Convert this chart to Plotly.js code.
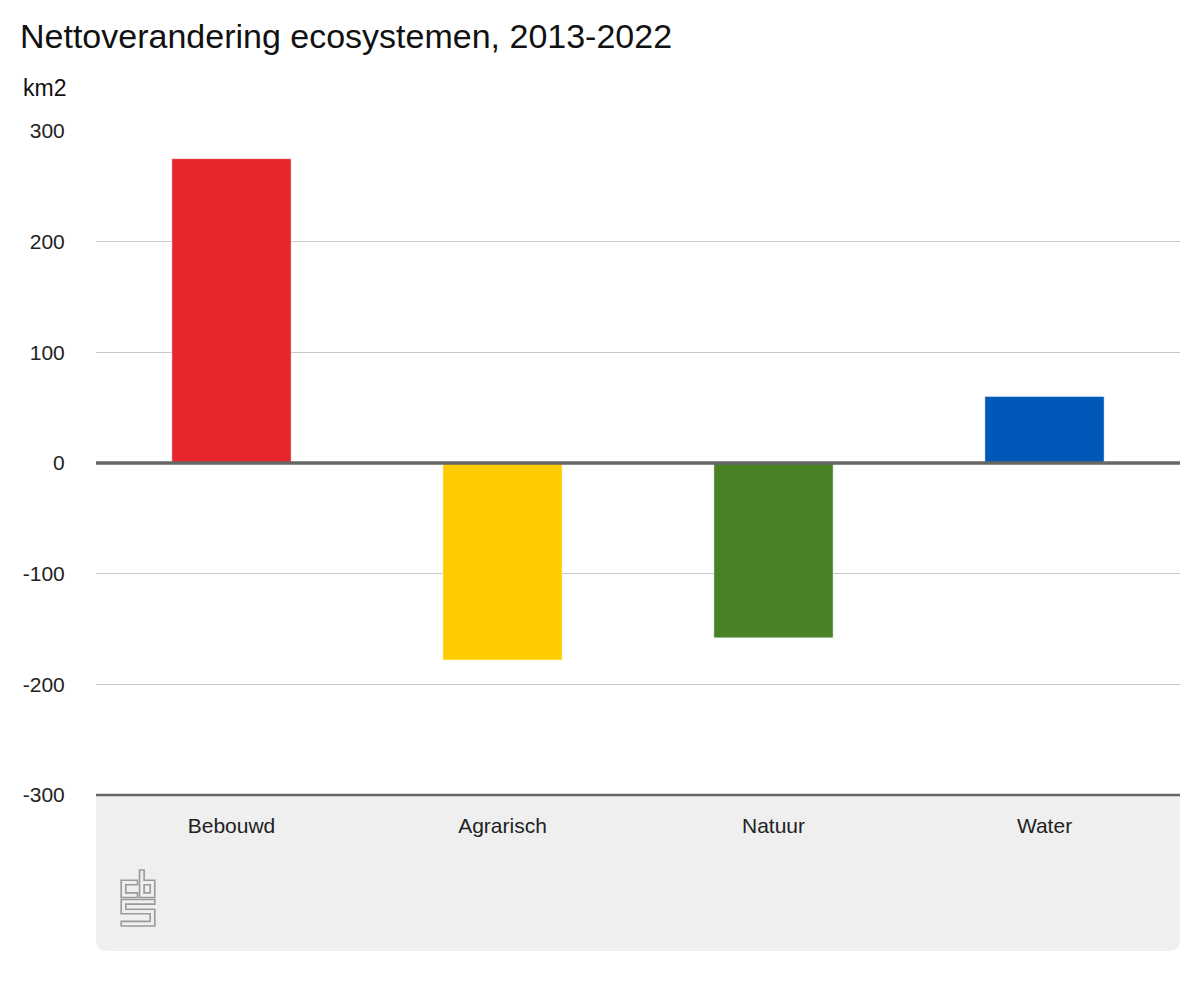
<!DOCTYPE html>
<html><head><meta charset="utf-8">
<script src="https://cdn.plot.ly/plotly-3.0.1.min.js"></script>
<style>body{margin:0;background:#fff}#c{width:1200px;height:1000px}</style>
</head><body><div id="c"></div>
<script>
const categories = ["Bebouwd", "Agrarisch", "Natuur", "Water"];
const values = [275, -178, -158, 60];
const colors = ["#e6262a", "#ffcc00", "#498224", "#0058b8"];
const yTicks = [-300, -200, -100, 0, 100, 200, 300];

const L = 96, R = 20, T = 131, B = 205, W = 1200, H = 1000;
const pw = W - L - R, ph = H - T - B;
const px = v => (v - L) / pw;
const py = v => (H - B - v) / ph;

const rx = 12 / pw, ry = 12 / ph;
const x0 = 0, x1 = 1, y0 = py(796), y1 = py(951);
const panel = `M${x0},${y0} L${x1},${y0} L${x1},${y1 + ry} Q${x1},${y1} ${x1 - rx},${y1} L${x0 + rx},${y1} Q${x0},${y1} ${x0},${y1 + ry} Z`;

const logo = 'data:image/svg+xml;utf8,' + encodeURIComponent(
`<svg xmlns="http://www.w3.org/2000/svg" width="36" height="58" viewBox="-1 -1 35 57">
<g fill="none" stroke="#9a9a9a" stroke-width="1.6">
<path d="M16,10 H0 V27 H16 V22.5 H4.5 V14.5 H16 Z"/>
<path d="M18,0 H22.5 V10 H33 V27 H18 Z"/>
<path d="M22.5,14.5 H28.5 V22.5 H22.5 Z"/>
<path d="M0,29 H33 V33.5 H4.5 V38.5 H33 V55 H0 V50.5 H28.5 V43 H0 Z"/>
</g></svg>`);

const data = [{
  type: 'bar', x: categories, y: values,
  marker: {color: colors, line: {color: 'rgba(255,255,255,0.45)', width: 1}},
  width: 0.44, hoverinfo: 'x+y'
}];

const layout = {
  width: W, height: H,
  margin: {l: L, r: R, t: T, b: B},
  paper_bgcolor: '#ffffff', plot_bgcolor: '#ffffff',
  font: {family: 'Liberation Sans, Arial, sans-serif', color: '#222', size: 21},
  showlegend: false,
  title: {text: 'Nettoverandering ecosystemen, 2013-2022', x: 20 / W, xanchor: 'left', y: 1 - 36 / H, yanchor: 'middle',
          font: {size: 34, color: '#111', family: 'Liberation Sans, Arial, sans-serif'}},
  xaxis: {type: 'category', showgrid: false, zeroline: false, showline: false,
          ticks: 'outside', ticklen: 12, tickcolor: 'rgba(0,0,0,0)', tickfont: {size: 21, color: '#222'}},
  yaxis: {range: [-300, 300], tickvals: yTicks, ticktext: yTicks.map(String),
          showgrid: true, gridcolor: '#c8c8c8', gridwidth: 1, zeroline: false, showline: false,
          ticks: 'outside', ticklen: 26, tickcolor: 'rgba(0,0,0,0)', tickfont: {size: 21, color: '#222'}},
  shapes: [
    {type: 'path', xref: 'paper', yref: 'paper', path: panel, fillcolor: '#efefef', line: {width: 0}, layer: 'below'},
    {type: 'line', xref: 'paper', yref: 'y', x0: 0, x1: 1, y0: 0, y1: 0, line: {color: '#666', width: 3.5}},
    {type: 'line', xref: 'paper', yref: 'paper', x0: 0, x1: 1, y0: py(795), y1: py(795), line: {color: '#666', width: 2.5}}
  ],
  annotations: [
    {text: 'km2', xref: 'paper', yref: 'paper', x: px(21), y: py(88), xanchor: 'left', yanchor: 'middle',
     showarrow: false, font: {size: 23, color: '#111'}}
  ],
  images: [
    {source: logo, xref: 'paper', yref: 'paper', x: px(119), y: py(869), sizex: 38 / pw, sizey: 58 / ph,
     xanchor: 'left', yanchor: 'top', sizing: 'contain', layer: 'above'}
  ]
};

Plotly.newPlot('c', data, layout, {displayModeBar: false, staticPlot: true});
</script></body></html>
